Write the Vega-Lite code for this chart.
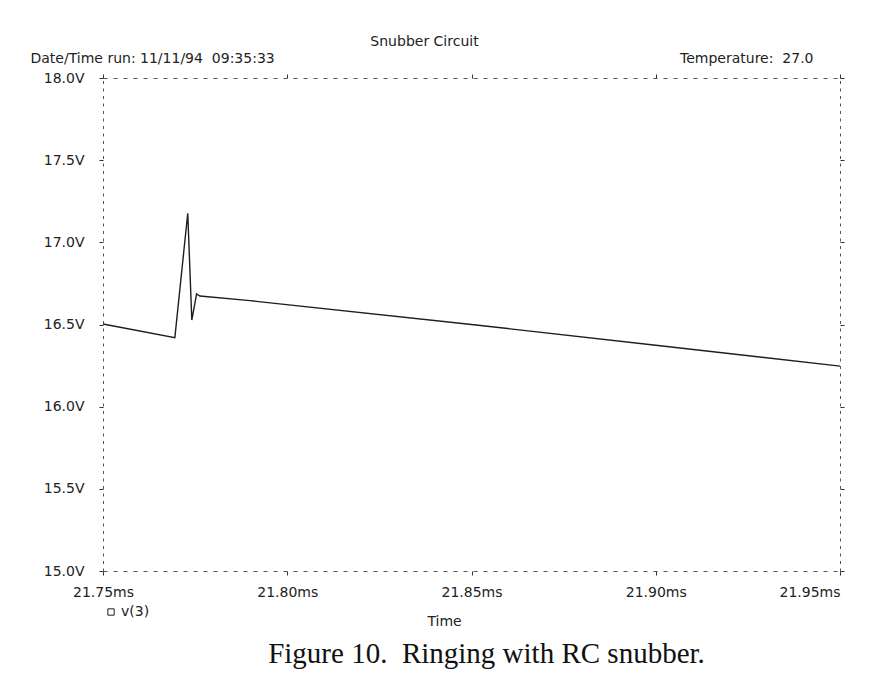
{
  "$schema": "https://vega.github.io/schema/vega-lite/v6.json",
  "width": 737,
  "height": 493,
  "autosize": "none",
  "padding": {"left": 103, "top": 78, "right": 51, "bottom": 103},
  "background": "white",
  "config": {"view": {"stroke": null}, "font": "DejaVu Sans"},
  "title": {
    "text": "Figure 10.\u00a0 Ringing with RC snubber.",
    "orient": "bottom",
    "anchor": "middle",
    "font": "Liberation Serif",
    "fontSize": 29,
    "fontWeight": "normal",
    "color": "#111111",
    "dx": 15,
    "dy": 12,
    "offset": 0
  },
  "data": {
    "values": [
      {"t": 21.75, "v": 16.503, "series": "v(3)"},
      {"t": 21.7695, "v": 16.42, "series": "v(3)"},
      {"t": 21.773, "v": 17.177, "series": "v(3)"},
      {"t": 21.7741, "v": 16.527, "series": "v(3)"},
      {"t": 21.7754, "v": 16.686, "series": "v(3)"},
      {"t": 21.7763, "v": 16.673, "series": "v(3)"},
      {"t": 21.7899, "v": 16.645, "series": "v(3)"},
      {"t": 21.85, "v": 16.5, "series": "v(3)"},
      {"t": 21.9, "v": 16.374, "series": "v(3)"},
      {"t": 21.95, "v": 16.247, "series": "v(3)"}
    ]
  },
  "layer": [
    {
      "mark": {"type": "line", "strokeWidth": 1.4},
      "encoding": {
        "x": {
          "field": "t", "type": "quantitative",
          "scale": {"domain": [21.75, 21.95], "nice": false, "zero": false},
          "axis": {
            "orient": "bottom",
            "values": [21.75, 21.8, 21.85, 21.9, 21.95],
            "labelExpr": "format(datum.value, '.2f') + 'ms'",
            "labelFont": "DejaVu Sans", "labelFontSize": 14, "labelColor": "#222222",
            "labelPadding": 10,
            "labelAlign": {"condition": {"test": "datum.value > 21.94", "value": "right"}, "value": "center"},
            "tickSize": 4, "tickColor": "#333333",
            "domainColor": "#555555", "domainDash": [4, 6],
            "grid": false,
            "title": "Time",
            "titleFont": "DejaVu Sans", "titleFontSize": 14, "titleFontWeight": "normal", "titleColor": "#222222",
            "titleX": 341, "titleY": 54, "titleAlign": "center", "titleBaseline": "alphabetic"
          }
        },
        "y": {
          "field": "v", "type": "quantitative",
          "scale": {"domain": [15, 18], "nice": false, "zero": false},
          "axis": {
            "orient": "left",
            "values": [15, 15.5, 16, 16.5, 17, 17.5, 18],
            "labelExpr": "format(datum.value, '.1f') + 'V'",
            "labelFont": "DejaVu Sans", "labelFontSize": 14, "labelColor": "#222222",
            "labelPadding": 15,
            "tickSize": 4, "tickColor": "#333333",
            "domainColor": "#555555", "domainDash": [3, 4.5],
            "grid": false,
            "title": "Date/Time run:\u00a011/11/94\u00a0\u00a009:35:33",
            "titleFont": "DejaVu Sans", "titleFontSize": 14, "titleFontWeight": "normal", "titleColor": "#222222",
            "titleAngle": 0, "titleX": -73, "titleY": -16, "titleAlign": "left", "titleBaseline": "alphabetic"
          }
        },
        "color": {
          "field": "series", "type": "nominal",
          "scale": {"range": ["#1e1e1e"]},
          "legend": {
            "orient": "none", "legendX": 1, "legendY": 527,
            "title": null, "padding": 0,
            "symbolType": "square", "symbolSize": 40,
            "symbolFillColor": "white", "symbolStrokeWidth": 1,
            "labelFont": "DejaVu Sans", "labelFontSize": 14, "labelColor": "#222222", "labelOffset": 3
          }
        }
      }
    },
    {
      "mark": {"type": "line", "opacity": 0},
      "encoding": {
        "x": {
          "field": "t", "type": "quantitative",
          "axis": {
            "orient": "top",
            "values": [21.75, 21.8, 21.85, 21.9, 21.95],
            "labels": false,
            "tickSize": 4, "tickColor": "#333333",
            "domainColor": "#555555", "domainDash": [4, 6],
            "grid": false,
            "title": "Snubber Circuit",
            "titleFont": "DejaVu Sans", "titleFontSize": 14, "titleFontWeight": "normal", "titleColor": "#222222",
            "titleX": 321, "titleY": -33, "titleAlign": "center", "titleBaseline": "alphabetic"
          }
        },
        "y": {
          "field": "v", "type": "quantitative",
          "axis": {
            "orient": "right",
            "values": [15, 15.5, 16, 16.5, 17, 17.5, 18],
            "labels": false,
            "tickSize": 4, "tickColor": "#333333",
            "domainColor": "#555555", "domainDash": [3, 4.5],
            "grid": false,
            "title": "Temperature:\u00a0\u00a027.0",
            "titleFont": "DejaVu Sans", "titleFontSize": 14, "titleFontWeight": "normal", "titleColor": "#222222",
            "titleAngle": 0, "titleX": -27, "titleY": -16, "titleAlign": "right", "titleBaseline": "alphabetic"
          }
        }
      }
    }
  ],
  "resolve": {"axis": {"x": "independent", "y": "independent"}}
}
